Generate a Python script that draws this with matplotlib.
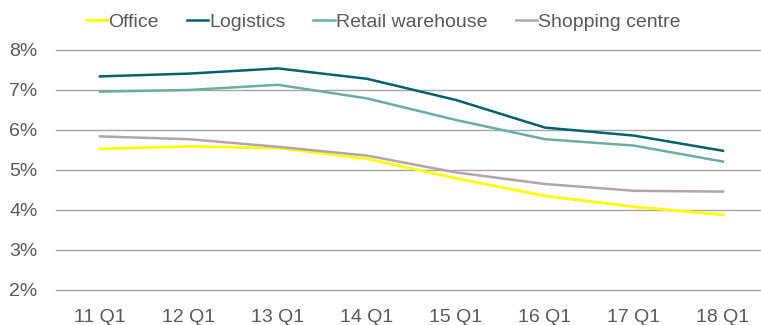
import matplotlib.pyplot as plt
from matplotlib.ticker import FuncFormatter

plt.rcParams['font.family'] = ['Liberation Sans', 'DejaVu Sans']

quarters = ["11 Q1", "12 Q1", "13 Q1", "14 Q1", "15 Q1", "16 Q1", "17 Q1", "18 Q1"]
office = [5.53, 5.59, 5.55, 5.28, 4.79, 4.35, 4.08, 3.88]
logistics = [7.34, 7.41, 7.54, 7.28, 6.75, 6.06, 5.86, 5.48]
retail_warehouse = [6.96, 7.00, 7.13, 6.79, 6.25, 5.77, 5.61, 5.21]
shopping_centre = [5.84, 5.77, 5.58, 5.36, 4.94, 4.65, 4.48, 4.46]

text_col = "#595959"

fig = plt.figure(figsize=(7.61, 3.25), dpi=100)
# axes run slightly past the right edge, like the source
ax = fig.add_axes([55.5 / 761, 35 / 325, 712 / 761, 240 / 325])

x = range(len(quarters))
ax.plot(x, office, color="#FFFF00", lw=2.0, label="Office")
ax.plot(x, logistics, color="#00626E", lw=1.8, label="Logistics")
ax.plot(x, retail_warehouse, color="#6BAE9F", lw=1.8, label="Retail warehouse")
ax.plot(x, shopping_centre, color="#B1A5AC", lw=1.8, label="Shopping centre")

ax.set_xlim(-0.5, 7.5)
ax.set_ylim(2, 8)
ax.set_yticks(range(2, 9))
ax.yaxis.set_major_formatter(FuncFormatter(lambda v, p: f"{v:.0f}%"))
ax.set_xticks(list(x))
ax.set_xticklabels(quarters)
ax.grid(axis="y", color="#A6A6A6", lw=1.0)
for gl in ax.get_ygridlines():
    gl.set_clip_on(False)
ax.set_axisbelow(True)
for s in ax.spines.values():
    s.set_visible(False)
ax.tick_params(length=0, labelsize=14, colors=text_col)
ax.tick_params(axis="y", pad=13)
ax.tick_params(axis="x", pad=14)

leg = ax.legend(loc="lower left", bbox_to_anchor=(30 / 712, 1.08), ncol=4, frameon=False,
                fontsize=14, handlelength=1.1, handletextpad=0.05, columnspacing=1.45,
                borderaxespad=0, borderpad=0)
for t in leg.get_texts():
    t.set_color(text_col)

fig.savefig("out.png", dpi=100)
